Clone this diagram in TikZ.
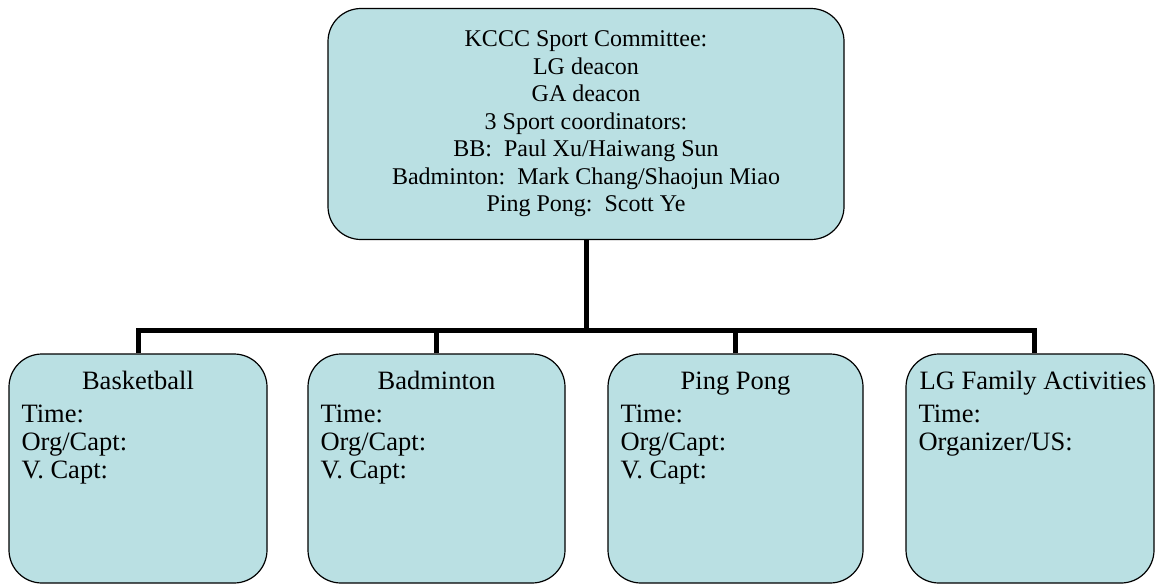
\documentclass[tikz,border=0pt]{standalone}
\usepackage{fontspec}
\setmainfont{Liberation Serif}
\usepackage{tikz}
\usetikzlibrary{positioning}
\definecolor{boxfill}{RGB}{186,224,227}

\begin{document}
\begin{tikzpicture}[x=1pt, y=-1pt]
		\tikzstyle{Unit}	= [draw, line width=1.2pt, fill=boxfill, rounded corners=33pt, inner sep=0pt]
		\tikzstyle{Top}		= [Unit, minimum width=516pt, minimum height=231pt, align=center, font=\fontsize{24}{27.5}\selectfont]
		\tikzstyle{Team}	= [Unit, minimum height=229pt]
		\tikzstyle{Title}	= [anchor=base, inner sep=0pt, font=\fontsize{26.5}{28}\selectfont]
		\tikzstyle{Body}	= [anchor=north west, align=left, inner sep=0pt, font=\fontsize{26.5}{28}\selectfont]
		\tikzstyle{Link}	= [line width=5pt]

		\useasboundingbox (0,0) rectangle (1155,584);

		\node (committee) at (586,124) [Top] {KCCC Sport Committee:\\LG deacon\\GA deacon\\3 Sport coordinators:\\BB:\ \ Paul Xu/Haiwang Sun\\Badminton:\ \ Mark Chang/Shaojun Miao\\Ping Pong:\ \ Scott Ye};

		\node (basket) at (138,468.5) [Team, minimum width=258pt] {};
		\node (badminton) at (436.5,468.5) [Team, minimum width=257pt] {};
		\node (pingpong) at (735.5,468.5) [Team, minimum width=255pt] {};
		\node (family) at (1030,468.5) [Team, minimum width=248pt] {};

		\node (basketT) at ([yshift=-36pt]basket.north) [Title] {Basketball};
		\node (badmintonT) at ([yshift=-36pt]badminton.north) [Title] {Badminton};
		\node (pingpongT) at ([yshift=-36pt]pingpong.north) [Title] {Ping Pong};
		\node (familyT) at ([xshift=3pt,yshift=-36pt]family.north) [Title] {LG Family Activities};

		\node (basketB) at ([xshift=13pt,yshift=-51.5pt]basket.north west) [Body] {Time:\\Org/Capt:\\V. Capt:};
		\node (badmintonB) at ([xshift=13pt,yshift=-51.5pt]badminton.north west) [Body] {Time:\\Org/Capt:\\V. Capt:};
		\node (pingpongB) at ([xshift=13pt,yshift=-51.5pt]pingpong.north west) [Body] {Time:\\Org/Capt:\\V. Capt:};
		\node (familyB) at ([xshift=13pt,yshift=-51.5pt]family.north west) [Body] {Time:\\Organizer/US:};

		\coordinate (hub) at (586,330);
		\coordinate (drop) at (1034,330);

		\draw [-] (committee.south) to (hub) [Link];
		\draw [-] (basket.north) -- (basket.north |- hub) -- (drop) -- (drop |- family.north) [Link];
		\draw [-] (badminton.north) to (badminton.north |- hub) [Link];
		\draw [-] (pingpong.north) to (pingpong.north |- hub) [Link];
	\end{tikzpicture}
\end{document}
